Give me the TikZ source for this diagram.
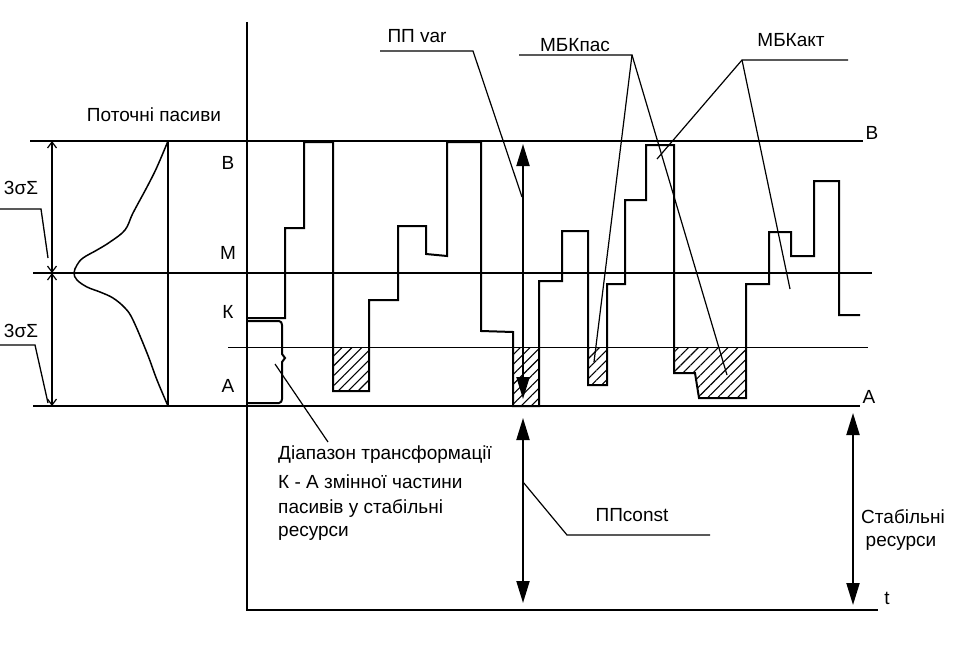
\documentclass[tikz,border=0pt]{standalone}
\usepackage{fontspec}
\setmainfont{Liberation Sans}
\usetikzlibrary{arrows.meta,patterns.meta}
\begin{document}
\begin{tikzpicture}[x=1pt,y=-1pt,
  thick line/.style={line width=2pt},
  thin line/.style={line width=1pt},
  lbl/.style={inner sep=0pt,font=\fontsize{19}{21}\selectfont},
  bigarrow/.style={line width=2pt,{Triangle[length=22pt,width=13pt]}-{Triangle[length=22pt,width=13pt]}},
  dimarrow/.style={line width=1.2pt,{Straight Barb[length=6pt,width=9pt]}-{Straight Barb[length=6pt,width=9pt]}},
  hatch/.style={pattern={Lines[angle=45,distance=7pt,line width=1.1pt]}},
  line join=miter]
\useasboundingbox (0,0) rectangle (973,650);

% axes
\coordinate (axTop) at (247,22);
\coordinate (axBot) at (247,610);
\coordinate (tEnd) at (878,610);
\draw[thick line] (axTop) -- (axBot) -- (tEnd);

% horizontal levels
\coordinate (Bl) at (30,141);  \coordinate (Br) at (863,141);
\coordinate (Ml) at (33,273);  \coordinate (Mr) at (872,273);
\coordinate (Al) at (33,406);  \coordinate (Ar) at (860,406);
\coordinate (Hl) at (228,347); \coordinate (Hr) at (868,347);
\draw[thick line] (Bl) -- (Br);
\draw[thick line] (Ml) -- (Mr);
\draw[thick line] (Al) -- (Ar);
\draw[thin line] (Hl) -- (Hr);

% hatched areas
\path[hatch] (333,347) rectangle (369,391);
\path[hatch] (513,347) rectangle (539,406);
\path[hatch] (588,347) rectangle (607,385);
\path[hatch] (674,347) -- (746,347) -- (746,398) -- (699,398) -- (695,373) -- (674,373) -- cycle;

% bell curve
\coordinate (bellTop) at (168,141);
\coordinate (bellBot) at (168,406);
\draw[thick line] (bellTop) -- (bellBot);
\draw[line width=1.5pt] plot[smooth,tension=0.6] coordinates {
 (168,141) (157,167) (147,187) (133,213) (125,230) (110,242) (97,250) (83,258) (77,265) (74,273)
 (77,280) (87,287) (100,292) (113,298) (125,308) (133,320) (147,353) (157,380) (168,406)};

% left dimension arrows
\coordinate (dTop) at (52,141);
\coordinate (dMid) at (52,273);
\coordinate (dBot) at (52,406);
\draw[dimarrow] (dTop) -- (dMid);
\draw[dimarrow] (dMid) -- (dBot);

% 3 sigma labels
\node[lbl] (s1) at (21,188) {3σΣ};
\node[lbl] (s2) at (21,331) {3σΣ};
\coordinate (s1a) at (0,209); \coordinate (s1b) at (41,209); \coordinate (s1c) at (48,258);
\coordinate (s2a) at (0,345); \coordinate (s2b) at (35,345); \coordinate (s2c) at (48,403);
\draw[line width=1.3pt] (s1a) -- (s1b) -- (s1c);
\draw[line width=1.3pt] (s2a) -- (s2b) -- (s2c);

% level letters
\node[lbl] (tp) at (154,115) {Поточні пасиви};
\node[lbl] (lB) at (228,163) {В};
\node[lbl] (lM) at (228,253) {М};
\node[lbl] (lK) at (228,312) {К};
\node[lbl] (lA) at (228,386) {А};
\node[lbl] (rB) at (872,133) {В};
\node[lbl] (rA) at (869,397) {А};
\node[lbl] (lt) at (887,598) {t};

% brace
\draw[thick line] (247,321) -- (279,321) to[out=0,in=90] (282,325) -- (282,354) -- (285,358) -- (282,362)
  -- (282,399) to[out=-90,in=0] (279,403) -- (247,403);

% step curve
\draw[thick line] (247,318) -- (285,318) -- (285,228) -- (304,228) -- (304,142) -- (333,142)
 -- (333,391) -- (369,391) -- (369,300) -- (398,300) -- (398,226) -- (426,226) -- (426,254)
 -- (447,256) -- (447,142) -- (481,142) -- (481,331) -- (513,332) -- (513,406) -- (539,406)
 -- (539,281) -- (562,281) -- (562,231) -- (588,231) -- (588,385) -- (607,385) -- (607,284)
 -- (625,284) -- (625,200) -- (646,200) -- (646,145) -- (674,145) -- (674,373) -- (695,373)
 -- (699,398) -- (746,398) -- (746,284) -- (769,284) -- (769,232) -- (791,232) -- (791,256)
 -- (814,256) -- (814,181) -- (839,181) -- (839,315) -- (860,315);

% big arrows
\coordinate (pvT) at (523,144); \coordinate (pvB) at (523,399);
\draw[bigarrow] (pvT) -- (pvB);
\coordinate (pcT) at (523,418); \coordinate (pcB) at (523,603);
\draw[bigarrow] (pcT) -- (pcB);
\coordinate (srT) at (853,413); \coordinate (srB) at (853,605);
\draw[bigarrow] (srT) -- (srB);

% labels with leaders
\node[lbl] (ppvar) at (417,36) {ПП var};
\coordinate (pv1) at (380,51); \coordinate (pv2) at (473,51); \coordinate (pv3) at (522,197);
\draw[line width=1.2pt] (pv1) -- (pv2) -- (pv3);

\node[lbl] (mbkp) at (575,45) {МБКпас};
\coordinate (mp1) at (519,55); \coordinate (mp2) at (632,55);
\coordinate (mp3) at (594,362); \coordinate (mp4) at (727,375);
\draw[line width=1.2pt] (mp1) -- (mp2) -- (mp3);
\draw[line width=1.2pt] (mp2) -- (mp4);

\node[lbl] (mbka) at (791,40) {МБКакт};
\coordinate (ma1) at (848,60); \coordinate (ma2) at (742,60);
\coordinate (ma3) at (657,159); \coordinate (ma4) at (790,289);
\draw[line width=1.2pt] (ma1) -- (ma2) -- (ma3);
\draw[line width=1.2pt] (ma2) -- (ma4);

\node[lbl,anchor=west] (d1) at (278,455) {Діапазон трансформації};
\node[lbl,anchor=west] (d2) at (278,482) {К - А змінної частини};
\node[lbl,anchor=west] (d3) at (278,508) {пасивів у стабільні};
\node[lbl,anchor=west] (d4) at (278,533) {ресурси};
\coordinate (br1) at (275,364); \coordinate (br2) at (328,442);
\draw[line width=1.2pt] (br1) -- (br2);

\node[lbl] (ppc) at (632,515) {ППconst};
\coordinate (pc1) at (523,482); \coordinate (pc2) at (567,535); \coordinate (pc3) at (710,535);
\draw[line width=1.2pt] (pc1) -- (pc2) -- (pc3);

\node[lbl] (st1) at (903,517) {Стабільні};
\node[lbl] (st2) at (901,543) {ресурси};
\end{tikzpicture}
\end{document}
